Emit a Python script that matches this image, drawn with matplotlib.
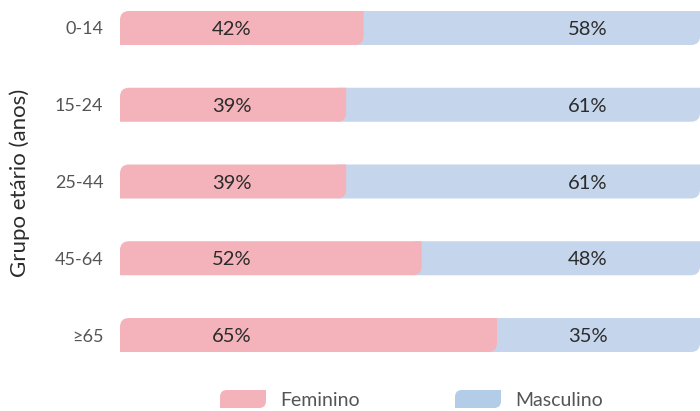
import matplotlib
matplotlib.use("Agg")
import matplotlib.pyplot as plt
from matplotlib.path import Path
from matplotlib.patches import PathPatch

plt.rcParams["font.family"] = ["Lato", "DejaVu Sans"]

groups = ["0-14", "15-24", "25-44", "45-64", "≥65"]
feminino = [42, 39, 39, 52, 65]
masculino = [58, 61, 61, 48, 35]
series_names = ["Feminino", "Masculino"]

PINK = "#f4b3ba"
BLUE = "#c5d6ec"
BLUE_LEGEND = "#b3cce8"
TEXT = "#2b2b2b"
TICK = "#555555"


def leaf_path(x0, y0, x1, y1, rx, ry, top_left=True):
    # rectangle with rounded top-left and bottom-right corners (y grows downward)
    verts = []
    codes = []
    if top_left:
        verts += [(x0, y1), (x0, y0 + ry), (x0, y0), (x0 + rx, y0)]
        codes += [Path.MOVETO, Path.LINETO, Path.CURVE3, Path.CURVE3]
    else:
        verts += [(x0, y1), (x0, y0)]
        codes += [Path.MOVETO, Path.LINETO]
    verts += [(x1, y0), (x1, y1 - ry), (x1, y1), (x1 - rx, y1), (x0, y1), (x0, y1)]
    codes += [Path.LINETO, Path.LINETO, Path.CURVE3, Path.CURVE3, Path.LINETO, Path.CLOSEPOLY]
    return Path(verts, codes)


fig = plt.figure(figsize=(7.0, 4.11), dpi=100)
ax = fig.add_axes([120 / 700, (411 - 365) / 411, 580 / 700, 365 / 411])

px_per_y = 76.75
ax.set_xlim(0, 100)
ax.set_ylim((365 - 28) / px_per_y, -28 / px_per_y)

bar_h = 34 / px_per_y
rx = 9 / 5.8
ry = 9 / px_per_y

for i, (f, m) in enumerate(zip(feminino, masculino)):
    y0, y1 = i - bar_h / 2, i + bar_h / 2
    ax.add_patch(PathPatch(leaf_path(f - rx, y0, f + m, y1, rx, ry, top_left=False),
                           facecolor=BLUE, edgecolor="none"))
    ax.add_patch(PathPatch(leaf_path(0, y0, f, y1, rx, ry),
                           facecolor=PINK, edgecolor="none"))
    ax.text(19.3, i + 0.02, f"{f}%", ha="center", va="center", fontsize=14.5, color=TEXT)
    ax.text(80.7, i + 0.02, f"{m}%", ha="center", va="center", fontsize=14.5, color=TEXT)

ax.set_yticks(range(len(groups)))
ax.set_yticklabels(groups, fontsize=13, color=TICK)
ax.tick_params(axis="y", length=0, pad=12)
ax.set_xticks([])
for s in ax.spines.values():
    s.set_visible(False)
ax.set_ylabel("Grupo etário (anos)", fontsize=16, color=TEXT, labelpad=18)

# legend
W, H = 700, 411
lax = fig.add_axes([0, 0, 1, 1], facecolor="none")
lax.set_xlim(0, W)
lax.set_ylim(H, 0)
lax.axis("off")
for (x, name, color) in [(220, series_names[0], PINK), (455, series_names[1], BLUE_LEGEND)]:
    lax.add_patch(PathPatch(leaf_path(x, 390, x + 46, 408, 7, 7), facecolor=color, edgecolor="none"))
    lax.text(x + 60, 400, name, ha="left", va="center", fontsize=14, color=TICK)

fig.savefig("out.png", dpi=100)
